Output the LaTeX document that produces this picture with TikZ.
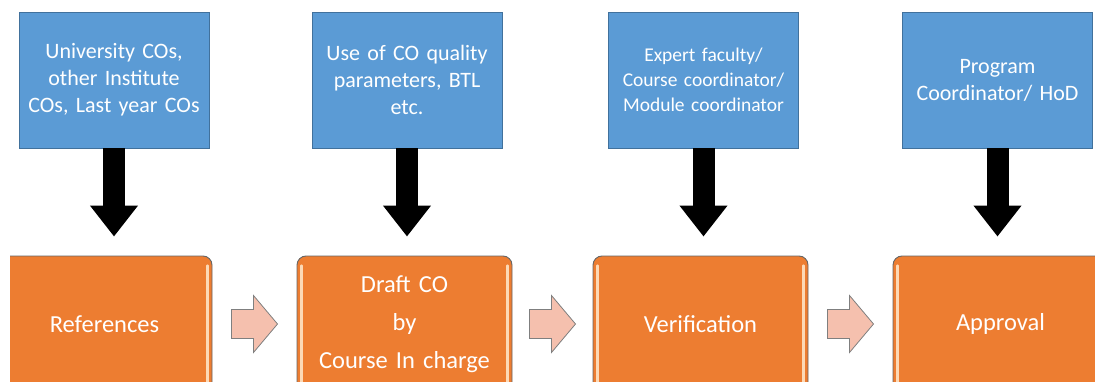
\documentclass[tikz,border=0pt]{standalone}
\usepackage{fontspec}
\setmainfont{Carlito}
\usetikzlibrary{arrows.meta,calc}
\definecolor{srcblue}{HTML}{5B9BD5}
\definecolor{srcedge}{HTML}{41719C}
\definecolor{stageorange}{HTML}{ED7D31}
\definecolor{stageedge}{HTML}{666666}
\definecolor{stageshine}{HTML}{FCD9B6}
\definecolor{flowpink}{HTML}{F5C0AE}
\definecolor{flowedge}{HTML}{7F7F7F}
\tikzset{
  src/.style={draw=srcedge, line width=0.6pt, fill=srcblue, text=white,
    minimum height=136pt, text width=180pt, inner sep=5pt, align=center,
    font=\fontsize{22}{27}\selectfont},
  stage/.style={draw=stageedge, line width=0.9pt, fill=stageorange, rounded corners=9pt,
    text=white, minimum height=136pt, text width=205pt, inner sep=5pt, align=center,
    font=\fontsize{24.5}{38}\selectfont},
  down/.style={line width=22pt, -{Triangle[width=46pt,length=31pt]}, shorten >=19pt},
  flow/.style={draw=flowedge, line width=0.8pt, fill=flowpink, line join=miter},
  shine/.style={stageshine, line width=2.5pt, line cap=round}
}
\begin{document}
\begin{tikzpicture}[x=1pt,y=-1pt]
    \useasboundingbox (0,0) rectangle (1095,382);
    \clip (0,0) rectangle (1095,382);

    \node[src] (univ) at (114,80) {University COs,\\ other Institute\\ COs, Last year COs};
    \node[src] (param) at (407,80) {Use of CO quality\\ parameters, BTL\\ etc.};
    \node[src, font=\fontsize{19.5}{25}\selectfont] (expert) at (703.5,80) {Expert faculty/\\ Course coordinator/\\ Module coordinator};
    \node[src] (hod) at (997.5,80) {Program\\ Coordinator/ HoD};

    \begin{scope}
      \clip (10,0) rectangle (1095,382);
      \node[stage] (ref) at (104.5,324) {References};
      \node[stage] (draft) at (404.5,324) {Draft CO\\ by\\ Course In charge};
      \node[stage] (verif) at (700.5,324) {Verification};
      \node[stage] (appr) at (1000.5,324) {Approval};
      \foreach \s in {ref,draft,verif,appr} {
        \draw[shine] ([xshift=5pt,yshift=-10pt]\s.north west) -- ([xshift=5pt,yshift=10pt]\s.south west);
        \draw[shine] ([xshift=-5pt,yshift=-10pt]\s.north east) -- ([xshift=-5pt,yshift=10pt]\s.south east);
      }
    \end{scope}

    \draw[down] (univ.south) -- (univ.south |- ref.north);
    \draw[down] (param.south) -- (param.south |- draft.north);
    \draw[down] (expert.south) -- (expert.south |- verif.north);
    \draw[down] (hod.south) -- (hod.south |- appr.north);

    \foreach \a/\b in {ref/draft,draft/verif,verif/appr}
      \draw[flow] ($(\a.east)!0.5!(\b.west)$) ++(-23,-14.5) -- ++(22,0) -- ++(0,-14) -- ++(24,28.5)
        -- ++(-24,28.5) -- ++(0,-14) -- ++(-22,0) -- cycle;
\end{tikzpicture}
\end{document}
